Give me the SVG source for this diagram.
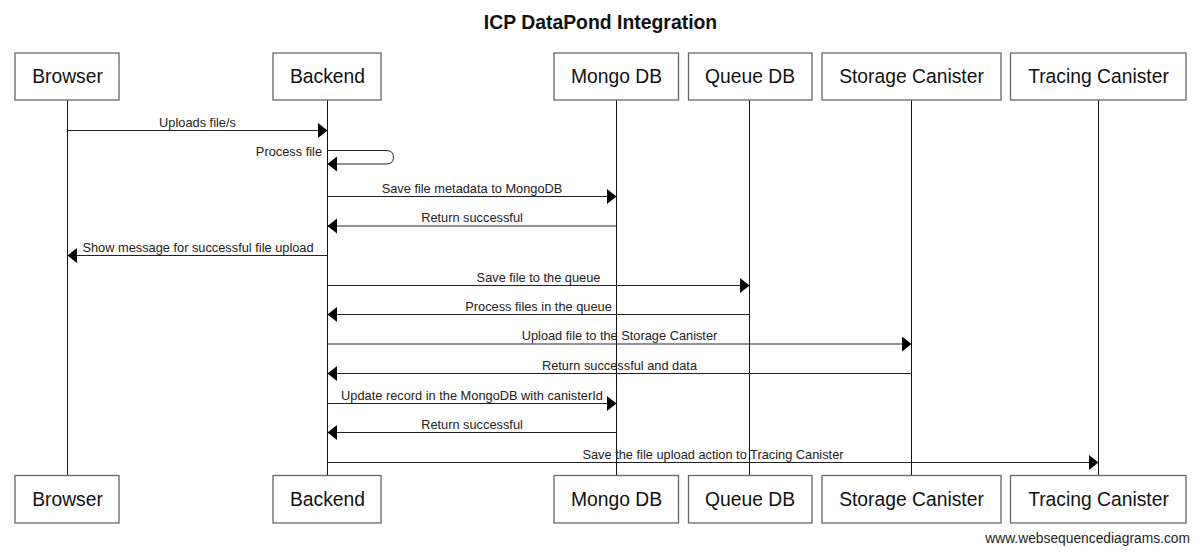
<svg xmlns="http://www.w3.org/2000/svg" width="1200" height="555" viewBox="0 0 1200 555">
<style>
.box{fill:#fff;stroke:#666;stroke-width:1.3}
.pt{font-family:"Liberation Sans",Arial,sans-serif;font-size:19.3px;fill:#111;text-anchor:middle}
.life{stroke:#111;stroke-width:1}
.msg{stroke:#222;stroke-width:1;fill:none;marker-end:url(#ah)}
.lbl{font-family:"Liberation Sans",Arial,sans-serif;font-size:12.8px;fill:#222;text-anchor:middle}
.title{font-family:"Liberation Sans",Arial,sans-serif;font-size:19.4px;font-weight:bold;fill:#111;text-anchor:middle}
.wm{font-family:"Liberation Sans",Arial,sans-serif;font-size:13.8px;fill:#222;text-anchor:end}
</style>
<defs>
<marker id="ah" markerUnits="userSpaceOnUse" markerWidth="11" markerHeight="16" refX="9.5" refY="7.5" orient="auto" viewBox="0 0 11 16">
<path d="M0,0 L9.5,7.5 L0,15 Z" fill="#000"/>
</marker>
</defs>
<rect width="1200" height="555" fill="#fff"/>
<text class="title" x="600.5" y="29">ICP DataPond Integration</text>

<g id="lifelines">
<line class="life" x1="67.5" y1="100" x2="67.5" y2="475"/>
<line class="life" x1="327.5" y1="100" x2="327.5" y2="475"/>
<line class="life" x1="616.5" y1="100" x2="616.5" y2="475"/>
<line class="life" x1="749.5" y1="100" x2="749.5" y2="475"/>
<line class="life" x1="911.5" y1="100" x2="911.5" y2="475"/>
<line class="life" x1="1098.5" y1="100" x2="1098.5" y2="475"/>
</g>

<g id="browser">
<rect class="box" x="15" y="53" width="104" height="47"/>
<text class="pt" x="67.5" y="83">Browser</text>
<rect class="box" x="15" y="475.5" width="104" height="47.5"/>
<text class="pt" x="67.5" y="506">Browser</text>
</g>
<g id="backend">
<rect class="box" x="273" y="53" width="108" height="47"/>
<text class="pt" x="327.5" y="83">Backend</text>
<rect class="box" x="273" y="475.5" width="108" height="47.5"/>
<text class="pt" x="327.5" y="506">Backend</text>
</g>
<g id="mongodb">
<rect class="box" x="554" y="53" width="124.5" height="47"/>
<text class="pt" x="616.5" y="83">Mongo DB</text>
<rect class="box" x="554" y="475.5" width="124.5" height="47.5"/>
<text class="pt" x="616.5" y="506">Mongo DB</text>
</g>
<g id="queuedb">
<rect class="box" x="688.5" y="53" width="123.5" height="47"/>
<text class="pt" x="750" y="83">Queue DB</text>
<rect class="box" x="688.5" y="475.5" width="123.5" height="47.5"/>
<text class="pt" x="750" y="506">Queue DB</text>
</g>
<g id="storage">
<rect class="box" x="822" y="53" width="179" height="47"/>
<text class="pt" x="911.5" y="83">Storage Canister</text>
<rect class="box" x="822" y="475.5" width="179" height="47.5"/>
<text class="pt" x="911.5" y="506">Storage Canister</text>
</g>
<g id="tracing">
<rect class="box" x="1010.5" y="53" width="175.5" height="47"/>
<text class="pt" x="1098.5" y="83">Tracing Canister</text>
<rect class="box" x="1010.5" y="475.5" width="175.5" height="47.5"/>
<text class="pt" x="1098.5" y="506">Tracing Canister</text>
</g>

<g id="connectors">
<line class="msg" x1="67.5" y1="130.5" x2="327.5" y2="130.5"/>
<text class="lbl" x="197.5" y="126.5">Uploads file/s</text>

<path class="msg" d="M327.5,150.5 H386 Q393.5,150.5 393.5,157.2 Q393.5,164 386,164 H327.5"/>
<text class="lbl" x="322" y="155.5" style="text-anchor:end">Process file</text>

<line class="msg" x1="327.5" y1="196.5" x2="616.5" y2="196.5"/>
<text class="lbl" x="472" y="192.5">Save file metadata to MongoDB</text>

<line class="msg" x1="616.5" y1="226" x2="327.5" y2="226"/>
<text class="lbl" x="472" y="222">Return successful</text>

<line class="msg" x1="327.5" y1="255.5" x2="67.5" y2="255.5"/>
<text class="lbl" x="198" y="251.5">Show message for successful file upload</text>

<line class="msg" x1="327.5" y1="285.5" x2="749.5" y2="285.5"/>
<text class="lbl" x="538.5" y="281.5">Save file to the queue</text>

<line class="msg" x1="749.5" y1="314.5" x2="327.5" y2="314.5"/>
<text class="lbl" x="538.5" y="310.5">Process files in the queue</text>

<line class="msg" x1="327.5" y1="344" x2="911.5" y2="344"/>
<text class="lbl" x="619.5" y="340">Upload file to the Storage Canister</text>

<line class="msg" x1="911.5" y1="373.5" x2="327.5" y2="373.5"/>
<text class="lbl" x="619.5" y="369.5">Return successful and data</text>

<line class="msg" x1="327.5" y1="403.5" x2="616.5" y2="403.5"/>
<text class="lbl" x="472" y="399.5">Update record in the MongoDB with canisterId</text>

<line class="msg" x1="616.5" y1="432.5" x2="327.5" y2="432.5"/>
<text class="lbl" x="472" y="428.5">Return successful</text>

<line class="msg" x1="327.5" y1="462.5" x2="1098.5" y2="462.5"/>
<text class="lbl" x="713" y="458.5">Save the file upload action to Tracing Canister</text>
</g>

<text class="wm" x="1190" y="543">www.websequencediagrams.com</text>
</svg>
